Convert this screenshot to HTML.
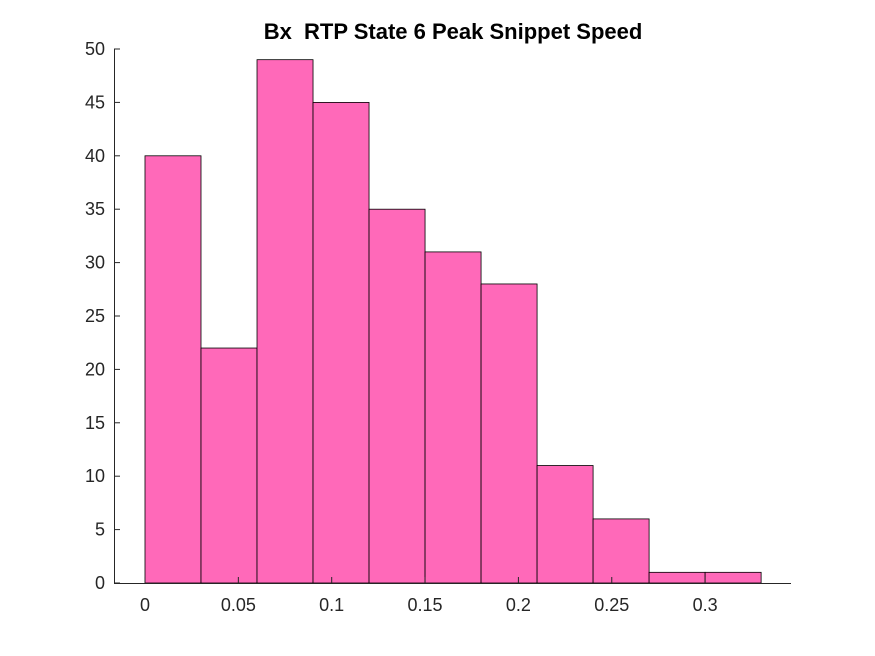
<!DOCTYPE html>
<html><head><meta charset="utf-8"><style>
html,body{margin:0;padding:0;background:#fff;}
svg{display:block;font-family:"Liberation Sans",Arial,sans-serif;}
</style></head><body>
<svg id="chart" width="875" height="656">
<rect width="875" height="656" fill="#fff"/>
<text x="453" y="39" text-anchor="middle" font-size="22" font-weight="bold" fill="#000" style="white-space:pre" xml:space="preserve">Bx  RTP State 6 Peak Snippet Speed</text>
<g id="bars"></g>
<g id="axes"></g>
</svg>
<script>
const binStart = 0;
const binWidth = 0.03;
const counts = [40, 22, 49, 45, 35, 31, 28, 11, 6, 1, 1];
const xTicks = [0, 0.05, 0.1, 0.15, 0.2, 0.25, 0.3];
const xTickLabels = ["0", "0.05", "0.1", "0.15", "0.2", "0.25", "0.3"];
const yTicks = [0, 5, 10, 15, 20, 25, 30, 35, 40, 45, 50];

const L = 114, R = 791, T = 49, B = 583;
const xMin = -0.0166, xMax = 0.346, yMin = 0, yMax = 50;
const sx = v => L + (v - xMin) / (xMax - xMin) * (R - L);
const sy = v => B - (v - yMin) / (yMax - yMin) * (B - T);
const NS = "http://www.w3.org/2000/svg";
const bars = document.getElementById('bars');
const axes = document.getElementById('axes');

counts.forEach((c, i) => {
  const x0 = sx(binStart + i * binWidth), x1 = sx(binStart + (i + 1) * binWidth);
  const r = document.createElementNS(NS, 'rect');
  r.setAttribute('x', x0); r.setAttribute('y', sy(c));
  r.setAttribute('width', x1 - x0); r.setAttribute('height', sy(0) - sy(c));
  r.setAttribute('fill', '#ff69b9'); r.setAttribute('stroke', '#000'); r.setAttribute('stroke-width', '0.8');
  
  
  bars.appendChild(r);
});

function line(x1, y1, x2, y2, name) {
  const l = document.createElementNS(NS, 'line');
  l.setAttribute('x1', x1); l.setAttribute('y1', y1); l.setAttribute('x2', x2); l.setAttribute('y2', y2);
  l.setAttribute('stroke', '#262626'); l.setAttribute('stroke-width', '1');
  
  
  axes.appendChild(l);
}
function text(x, y, s, anchor, name) {
  const t = document.createElementNS(NS, 'text');
  t.setAttribute('x', x); t.setAttribute('y', y); t.setAttribute('text-anchor', anchor);
  t.setAttribute('font-size', '18'); t.setAttribute('fill', '#262626');
  t.textContent = s;
  
  
  axes.appendChild(t);
}
line(L, B + 0.5, R, B + 0.5, 'x-axis-line');
line(L + 0.5, T, L + 0.5, B, 'y-axis-line');
xTicks.forEach((v, i) => {
  const x = sx(v);
  line(x, B, x, B - 6, 'x-tick');
  text(x, B + 28, xTickLabels[i], 'middle', 'x-tick-label');
});
yTicks.forEach(v => {
  const y = sy(v);
  line(L, y, L + 6, y, 'y-tick');
  text(L - 9, y + 6, String(v), 'end', 'y-tick-label');
});
</script>
</body></html>
